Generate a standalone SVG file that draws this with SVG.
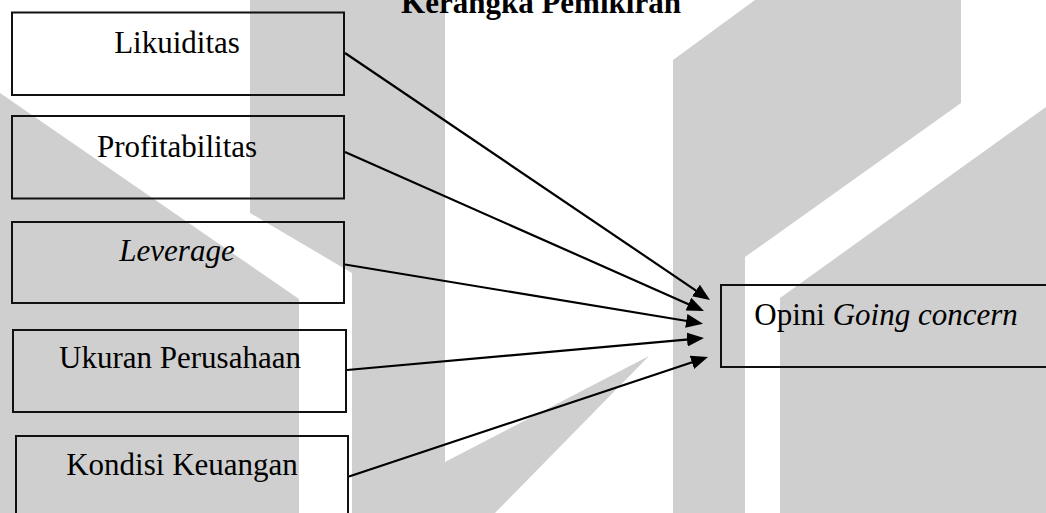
<svg xmlns="http://www.w3.org/2000/svg" width="1046" height="513" viewBox="0 0 1046 513">
<style>
.wm{fill:#cfcfcf;stroke:none}
.box{fill:none;stroke:#111;stroke-width:2}
.lbl{font-family:"Liberation Serif","Times New Roman",serif;font-size:31px;fill:#000;text-anchor:middle}
.title{font-family:"Liberation Serif","Times New Roman",serif;font-size:31px;font-weight:bold;fill:#000;text-anchor:middle}
.conn{stroke:#000;stroke-width:2.2;fill:none;marker-end:url(#ah)}
</style>
<defs>
<marker id="ah" viewBox="0 0 17 14" refX="13" refY="7" markerWidth="17" markerHeight="14" markerUnits="userSpaceOnUse" orient="auto">
<path d="M0,0 L17,7 L0,14 z" fill="#000"/>
</marker>
</defs>
<rect width="1046" height="513" fill="#fff"/>
<g id="watermark">
<polygon class="wm" points="0,93 299,299 299,513 0,513"/>
<polygon class="wm" points="250,0 445,0 445,462 649,356 495,513 352,513 352,273 250,213"/>
<polygon class="wm" points="673,60 755,0 961,0 961,103 745,257 745,513 673,513"/>
<polygon class="wm" points="1046,107 1046,513 780,513 780,298"/>
</g>
<text class="title" x="541" y="13">Kerangka Pemikiran</text>
<g id="connectors">
<path class="conn" d="M345,53 L706.7,297.8"/>
<path class="conn" d="M345,152 L700.3,309.4"/>
<path class="conn" d="M345,264.5 L699.1,323"/>
<path class="conn" d="M347,370 L700,338.4"/>
<path class="conn" d="M349,476.5 L704.2,358.3"/>
</g>
<g id="likuiditas">
<rect class="box" x="12" y="12.5" width="332" height="82.5"/>
<text class="lbl" x="177" y="53">Likuiditas</text>
</g>
<g id="profitabilitas">
<rect class="box" x="12" y="116" width="332" height="82.5"/>
<text class="lbl" x="177" y="157">Profitabilitas</text>
</g>
<g id="leverage">
<rect class="box" x="12" y="222" width="332" height="81"/>
<text class="lbl" x="177" y="261" font-style="italic">Leverage</text>
</g>
<g id="ukuran">
<rect class="box" x="13" y="330" width="333" height="82"/>
<text class="lbl" x="180" y="368">Ukuran Perusahaan</text>
</g>
<g id="kondisi">
<rect class="box" x="16" y="436" width="332" height="90"/>
<text class="lbl" x="182" y="475">Kondisi Keuangan</text>
</g>
<g id="opini">
<rect class="box" x="721" y="285" width="340" height="82"/>
<text class="lbl" x="886" y="325">Opini <tspan font-style="italic">Going concern</tspan></text>
</g>
</svg>
